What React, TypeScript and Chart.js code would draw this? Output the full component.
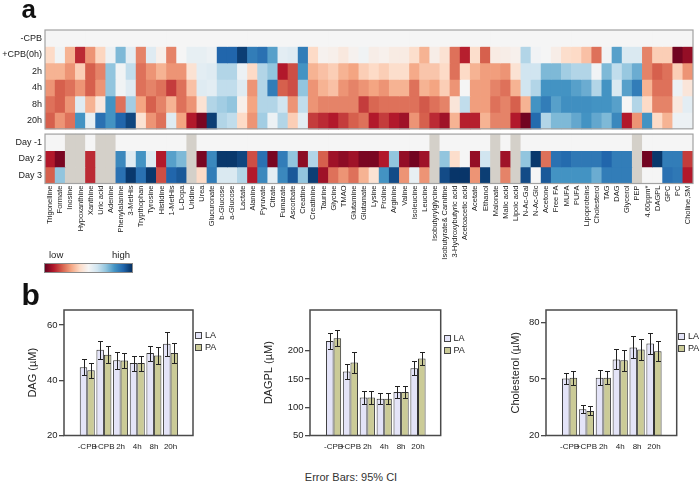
import React, { useEffect, useRef } from 'react';
import { Chart, registerables } from 'chart.js';

Chart.register(...registerables);

const FONT = "'Liberation Sans', Arial, Helvetica, sans-serif";
Chart.defaults.font.family = FONT;
Chart.defaults.color = '#222';

if (typeof document !== 'undefined' && document.body) document.body.style.margin = '0';

// ---------------- Heatmap data ----------------
const metabolites = [
  'Trigonelline', 'Formate', 'Inosine', 'Hypoxanthine', 'Xanthine', 'Uric acid', 'Adenine', 'Phenylalanine',
  '3-MetHis', 'Trypthophan', 'Tyrosine', 'Histidine', '1-MetHis', 'L-Dopa', 'Uridine', 'Urea',
  'Glucuronate', 'b-Glucose', 'a-Glucose', 'Lactate', 'Alanine', 'Pyruvate', 'Citrate', 'Fumarate',
  'Ascorbate', 'Creatine', 'Creatinine', 'Taurine', 'Glycine', 'TMAO', 'Glutamine', 'Glutamate',
  'Lysine', 'Proline', 'Arginine', 'Valine', 'Isoleucine', 'Leucine', 'Isobutyrylglycine', 'Isobutyrate& Carnitine',
  '3-Hydroxybutyric acid', 'Acetoacetic acid', 'Acetate', 'Ethanol', 'Malonate', 'Malic acid', 'Lipoic acid', 'N-Ac-Gal',
  'N-Ac-Glc', 'Acetone', 'Free FA', 'MUFA', 'PUFA', 'Lipoproteins', 'Cholesterol', 'TAG',
  'DAG', 'Glycerol', 'PEP', '4.60ppm*', 'DAGPL', 'GPC', 'PC', 'Choline,SM',
];

const topRowLabels = ['-CPB', '+CPB(0h)', '2h', '4h', '8h', '20h'];
const bottomRowLabels = ['Day -1', 'Day 2', 'Day 3'];

const rowMinusCPB = [
  0, 0, 0, 0, 0, 0, 0, 0, 0, 0, 0, 0, 0, 0, 0, 0,
  0, 0, 0, 0, 0, 0, 0, 0, 0, 0, 0, 0, 0, 0, 0, 0,
  0, 0, 0, 0, 0, 0, 0, 0, 0, 0, 0, 0, 0, 0, 0, 0,
  0, 0, 0, 0, 0, 0, 0, 0, 0, 0, 0, 0, 0, 0, 0, 0,
];
const rowCPB0h = [
  -0.2, 0.03, -0.35, -0.75, -0.45, -0.22, 0.05, 0.45, 0.1, -0.5, 0.12, -0.05, -0.5, 0.0, 0.08, 0.08,
  0.05, 0.8, 0.8, 0.95, 0.7, 0.75, 0.55, 0.1, 0.12, 0.7, -0.2, -0.03, -0.05, -0.1, -0.03, 0.03,
  -0.06, -0.04, -0.08, -0.08, -0.18, -0.35, -0.06, -0.15, -0.55, -0.78, -0.18, -0.6, -0.08, -0.06, -0.04, 0.3,
  0.02, 0.0, -0.06, -0.18, -0.2, -0.3, -0.55, 0.02, 0.55, 0.15, 0.15, -0.5, -0.25, -0.25, -0.97, -0.88,
];
const row2h = [
  -0.35, -0.35, -0.45, -0.25, -0.6, -0.5, 0.4, 0.03, 0.25, -0.55, -0.45, -0.35, -0.45, -0.45, -0.15, 0.1,
  0.12, 0.3, 0.3, 0.05, -0.2, 0.3, 0.4, -0.8, -0.65, 0.6, -0.35, -0.3, -0.25, -0.35, -0.4, -0.25,
  -0.2, -0.25, -0.18, -0.18, -0.38, -0.28, -0.28, -0.2, -0.55, -0.2, -0.35, -0.42, -0.42, -0.45, -0.15, 0.2,
  0.2, 0.45, 0.45, 0.35, 0.3, 0.3, 0.02, 0.45, 0.25, 0.38, 0.5, -0.5, -0.6, -0.55, -0.25, -0.45,
];
const row4h = [
  -0.45, -0.6, -0.55, -0.45, -0.6, -0.45, 0.4, 0.03, 0.12, -0.55, -0.5, -0.55, -0.7, -0.55, -0.3, 0.12,
  0.1, 0.25, 0.25, 0.12, -0.45, 0.3, 0.7, -0.6, -0.65, 0.4, -0.45, -0.35, -0.3, -0.45, -0.5, -0.45,
  -0.4, -0.45, -0.35, -0.35, -0.55, -0.35, -0.4, -0.25, -0.45, 0.0, -0.42, -0.42, -0.5, -0.55, -0.35, 0.2,
  0.3, 0.6, 0.6, 0.6, 0.55, 0.5, 0.3, 0.6, 0.15, 0.55, 0.7, -0.35, -0.55, -0.55, 0.05, -0.12,
];
const row8h = [
  -0.55, -0.6, -0.45, 0.12, -0.35, -0.1, 0.6, -0.55, 0.35, -0.4, -0.6, -0.5, -0.35, -0.55, -0.45, -0.15,
  0.3, 0.35, 0.4, -0.05, -0.4, 0.3, 0.3, 0.2, -0.45, 0.25, -0.45, -0.5, -0.5, -0.5, -0.5, -0.7,
  -0.58, -0.55, -0.55, -0.55, -0.55, -0.62, -0.55, -0.5, -0.12, 0.25, -0.42, -0.42, -0.55, -0.5, -0.6, -0.35,
  0.6, 0.7, 0.55, 0.62, 0.62, 0.62, 0.6, 0.6, 0.55, 0.0, 0.3, -0.2, -0.5, -0.5, -0.1, 0.1,
];
const row20h = [
  -0.6, -0.45, -0.55, 0.6, 0.08, 0.75, 0.6, 0.8, 0.92, -0.15, -0.45, -0.55, 0.12, -0.4, -0.8, -0.95,
  0.95, 0.3, 0.25, -0.2, -0.45, 0.35, 0.05, 0.3, -0.25, 0.1, -0.7, -0.75, -0.8, -0.7, -0.6, -0.55,
  -0.8, -0.7, -0.8, -0.85, -0.45, -0.6, -0.75, -0.85, -0.35, -0.78, -0.78, -0.35, -0.5, -0.5, -0.8, -0.97,
  0.78, 0.3, 0.45, 0.45, 0.52, 0.6, 0.52, 0.45, 0.65, -0.8, -0.45, 0.6, -0.2, -0.35, 0.05, 0.05,
];
const rowDayMinus1 = [
  0, 0, null, null, 0, null, null, 0, 0, 0, 0, 0, 0, 0, null, 0,
  0, 0, 0, 0, 0, 0, 0, 0, 0, 0, 0, 0, 0, 0, 0, 0,
  0, 0, 0, 0, 0, 0, null, 0, 0, 0, 0, 0, null, 0, null, 0,
  0, 0, 0, 0, 0, 0, 0, 0, 0, 0, null, 0, 0, 0, 0, 0,
];
const rowDay2 = [
  -0.8, -0.95, null, null, -0.75, null, null, 0.65, 0.12, 0.6, 0.12, -0.8, 0.55, 0.45, null, -0.95,
  0.65, 0.97, 0.97, 0.92, -0.65, 0.75, -0.95, 0.7, 0.4, -0.9, 0.3, -0.6, -0.85, -0.9, -0.85, -0.95,
  -0.95, -0.8, 0.4, -0.88, -0.97, -0.85, null, 0.4, -0.18, 0.0, -0.88, 0.2, null, -0.85, null, 0.4,
  0.97, -0.55, 0.75, 0.78, 0.72, 0.72, 0.72, 0.8, 0.7, 0.7, null, -0.97, 0.97, 0.7, 0.7, -0.7,
];
const rowDay3 = [
  -0.6, 0.4, null, null, -0.75, null, null, 0.75, 0.97, 0.75, 0.97, -0.65, 0.8, 0.85, null, -0.2,
  0.7, 0.15, 0.15, 0.3, -0.8, 0.65, 0.1, 0.65, 0.85, 0.4, 0.95, -0.85, -0.55, -0.45, -0.55, -0.35,
  -0.15, 0.6, 0.9, -0.45, 0.08, -0.45, null, 0.9, 0.98, 0.98, -0.45, 0.95, null, -0.5, null, 0.9,
  0.0, 0.85, 0.6, 0.6, 0.6, 0.6, 0.5, 0.7, 0.7, 0.7, null, 0.0, 0.0, 0.75, 0.72, -0.8,
];

// ---------------- Bar chart data ----------------
const timeLabels = ['-CPB', '+CPB', '2h', '4h', '8h', '20h'];
const dagLA = [44.7, 51.0, 47.2, 46.2, 49.8, 53.2];
const dagPA = [43.6, 49.2, 47.1, 46.2, 48.9, 49.8];
const dagLAci = [2.9, 3.2, 3.0, 2.7, 2.7, 4.3];
const dagPAci = [2.7, 3.0, 2.8, 2.7, 3.0, 3.7];
const dagplLA = [217, 163, 117, 115, 127, 169];
const dagplPA = [222, 179, 117, 115, 127, 186];
const dagplLAci = [14, 12.7, 11, 9.5, 11, 12];
const dagplPAci = [14, 19, 11.5, 9.5, 11, 12];
const cholLA = [50.4, 34.0, 50.7, 60.5, 66.9, 69.0];
const cholPA = [50.7, 33.1, 50.7, 60.0, 65.8, 64.9];
const cholLAci = [3.1, 2.0, 4.0, 5.3, 5.9, 5.7];
const cholPAci = [3.7, 2.4, 3.5, 5.5, 5.5, 5.2];
const dagTicks = [20, 40, 60];
const dagplTicks = [50, 100, 150, 200];
const cholTicks = [20, 50, 80];

// ---------------- Styles ----------------
const GAP = 0.32;
const NA_COLOR = '#d4d0c9';
const LA_COLOR = '#e4e4f8';
const PA_COLOR = '#cbcb97';
const RDBU: [number, string][] = [
  [-1, '#67001f'], [-0.8, '#b2182b'], [-0.6, '#d6604d'], [-0.4, '#f4a582'], [-0.2, '#fddbc7'],
  [0, '#f5f5f5'], [0.2, '#d1e5f0'], [0.4, '#92c5de'], [0.6, '#4393c3'], [0.8, '#2166ac'], [1, '#053061'],
];

function hexToRgb(h: string) {
  const n = parseInt(h.slice(1), 16);
  return [(n >> 16) & 255, (n >> 8) & 255, n & 255];
}
function heatColor(v: number) {
  const c = Math.max(-1, Math.min(1, v));
  for (let i = 0; i < RDBU.length - 1; i++) {
    const [a, ca] = RDBU[i];
    const [b, cb] = RDBU[i + 1];
    if (c >= a && c <= b) {
      const t = (c - a) / (b - a);
      const A = hexToRgb(ca), B = hexToRgb(cb);
      const m = A.map((x, k) => Math.round(x + (B[k] - x) * t));
      return `rgb(${m[0]},${m[1]},${m[2]})`;
    }
  }
  return RDBU[RDBU.length - 1][1];
}

function Heatmap() {
  const ref = useRef<HTMLCanvasElement>(null);
  useEffect(() => {
    const rows = [rowMinusCPB, rowCPB0h, row2h, row4h, row8h, row20h, rowDayMinus1, rowDay2, rowDay3];
    const rowLabels = [...topRowLabels, ...bottomRowLabels];
    const rowStarts = [0, 1, 2, 3, 4, 5, 6 + GAP, 7 + GAP, 8 + GAP];
    const datasets = rows.map((vals, r) => ({
      label: rowLabels[r],
      data: vals.map(() => [rowStarts[r], rowStarts[r] + 1]),
      backgroundColor: vals.map((v) => (v === null ? NA_COLOR : heatColor(v as number))),
      borderWidth: 0,
      barPercentage: 1,
      categoryPercentage: 1,
      grouped: false,
    }));
    const frame = {
      id: 'heatFrame',
      afterDatasetsDraw(chart: any) {
        const { ctx, chartArea: a, scales } = chart;
        const y = scales.y;
        ctx.save();
        ctx.strokeStyle = '#a2a2a2';
        ctx.lineWidth = 1.2;
        [[0, 6], [6 + GAP, 9 + GAP]].forEach(([s, e]) => {
          const y0 = y.getPixelForValue(s);
          const y1 = y.getPixelForValue(e);
          ctx.strokeRect(a.left, y0, a.right - a.left, y1 - y0);
        });
        ctx.restore();
      },
    };
    const chart = new Chart(ref.current!, {
      type: 'bar',
      data: { labels: metabolites, datasets: datasets as any },
      options: {
        animation: false,
        responsive: false,
        devicePixelRatio: 1,
        layout: { padding: { top: 30, right: 7, left: 0, bottom: 0 } },
        plugins: { legend: { display: false }, tooltip: { enabled: false } },
        scales: {
          x: {
            type: 'category',
            grid: { display: false, drawTicks: false },
            border: { display: false },
            ticks: { autoSkip: false, minRotation: 90, maxRotation: 90, padding: 2, font: { size: 7.5 }, color: '#222' },
            afterFit: (s: any) => { s.height = 81.5; },
          },
          y: {
            type: 'linear',
            reverse: true,
            min: 0,
            max: 9 + GAP,
            grid: { display: false, drawTicks: false },
            border: { display: false },
            afterBuildTicks: (s: any) => { s.ticks = rowStarts.map((v) => ({ value: v + 0.5 })); },
            ticks: { padding: 3, font: { size: 9 }, color: '#222', callback: (_v: any, i: number) => rowLabels[i] },
            afterFit: (s: any) => { s.width = 45; },
          },
        },
      } as any,
      plugins: [frame],
    });
    return () => chart.destroy();
  }, []);
  return <canvas ref={ref} width={700} height={265} style={{ position: 'absolute', left: 0, top: 0, width: 700, height: 265 }} />;
}

type PanelProps = {
  left: number; width: number; axisWidth: number; padRight: number; titleCenter: number; title: string;
  yMin: number; yMax: number; yTicks: number[]; la: number[]; pa: number[]; laErr: number[]; paErr: number[];
};

function BarPanel(p: PanelProps) {
  const ref = useRef<HTMLCanvasElement>(null);
  useEffect(() => {
    const errorBars = {
      id: 'errorBars',
      afterDatasetsDraw(chart: any) {
        const { ctx, scales } = chart;
        const y = scales.y;
        ctx.save();
        ctx.strokeStyle = '#222';
        ctx.lineWidth = 1;
        chart.data.datasets.forEach((ds: any, di: number) => {
          const meta = chart.getDatasetMeta(di);
          meta.data.forEach((bar: any, i: number) => {
            const v = ds.data[i].y;
            const e = ds.errors[i];
            const yh = Math.round(y.getPixelForValue(v + e)) + 0.5;
            const yl = Math.round(y.getPixelForValue(v - e)) + 0.5;
            const x = Math.round(bar.x) + 0.5;
            ctx.beginPath();
            ctx.moveTo(x, yh); ctx.lineTo(x, yl);
            ctx.moveTo(x - 2.5, yh); ctx.lineTo(x + 2.5, yh);
            ctx.moveTo(x - 2.5, yl); ctx.lineTo(x + 2.5, yl);
            ctx.stroke();
          });
        });
        ctx.restore();
      },
    };
    const box = {
      id: 'box',
      afterDraw(chart: any) {
        const { ctx, chartArea: a } = chart;
        ctx.save();
        ctx.strokeStyle = '#4a4a4a';
        ctx.lineWidth = 1.5;
        ctx.strokeRect(a.left, a.top, a.right - a.left, a.bottom - a.top);
        ctx.restore();
      },
    };
    const mk = (label: string, vals: number[], errs: number[], color: string) => ({
      label,
      data: vals.map((v, i) => ({ x: i, y: v })),
      errors: errs,
      backgroundColor: color,
      borderColor: '#333',
      borderWidth: 1,
      borderSkipped: false,
      categoryPercentage: 0.9,
      barPercentage: 1,
    });
    const chart = new Chart(ref.current!, {
      type: 'bar',
      data: {
        datasets: [mk('LA', p.la, p.laErr, LA_COLOR), mk('PA', p.pa, p.paErr, PA_COLOR)] as any,
      },
      options: {
        animation: false,
        responsive: false,
        devicePixelRatio: 1,
        layout: { padding: { top: 10, right: p.padRight, left: 0, bottom: 0 } },
        plugins: { legend: { display: false }, tooltip: { enabled: false } },
        scales: {
          x: {
            type: 'linear',
            min: -0.75,
            max: 5.7,
            grid: { display: false, drawTicks: false },
            border: { display: false },
            afterBuildTicks: (s: any) => { s.ticks = timeLabels.map((_, i) => ({ value: i })); },
            ticks: { autoSkip: false, maxRotation: 0, padding: 6, font: { size: 8 }, color: '#222', callback: (v: any) => timeLabels[v] },
            afterFit: (s: any) => { s.height = 24.5; },
          },
          y: {
            type: 'linear',
            min: p.yMin,
            max: p.yMax,
            border: { display: false },
            grid: { display: true, drawOnChartArea: false, drawTicks: true, tickLength: 5, color: '#4a4a4a', lineWidth: 1.3 },
            afterBuildTicks: (s: any) => { s.ticks = p.yTicks.map((v) => ({ value: v })); },
            ticks: { padding: 1.5, font: { size: 9.5 }, color: '#222' },
            title: {
              display: true, text: p.title, color: '#222', font: { size: 11 },
              padding: { top: p.titleCenter - 6.6, bottom: 0 },
            },
            afterFit: (s: any) => { s.width = p.axisWidth; },
          },
        },
      } as any,
      plugins: [errorBars, box],
    });
    return () => chart.destroy();
  }, []);
  return <canvas ref={ref} width={p.width} height={160} style={{ position: 'absolute', left: p.left, top: 300, width: p.width, height: 160 }} />;
}

function Legend({ x, y1, y2 }: { x: number; y1: number; y2: number }) {
  const item = (y: number, label: string, color: string) => (
    <div style={{ position: 'absolute', left: x, top: y, height: 7, display: 'flex', alignItems: 'center' }}>
      <div style={{ width: 7, height: 7, boxSizing: 'border-box', border: '1px solid #444', background: color }} />
      <span style={{ marginLeft: 3, fontSize: 9, lineHeight: '9px', color: '#222' }}>{label}</span>
    </div>
  );
  return (
    <>
      {item(y1, 'LA', LA_COLOR)}
      {item(y2, 'PA', PA_COLOR)}
    </>
  );
}

export default function App() {
  useEffect(() => { document.body.style.margin = '0'; }, []);
  const gradient = `linear-gradient(to right, ${RDBU.map(([v, c]) => `${c} ${((v + 1) / 2) * 100}%`).join(', ')})`;
  return (
    <div style={{ position: 'relative', width: 700, height: 486, background: '#fff', fontFamily: FONT, overflow: 'hidden' }}>
      <Heatmap />
      <div style={{ position: 'absolute', left: 21.5, top: -4.5, fontSize: 26, lineHeight: '26px', fontWeight: 'bold', color: '#111' }}>a</div>
      <div style={{ position: 'absolute', left: 21.5, top: 279.5, fontSize: 30, lineHeight: '30px', fontWeight: 'bold', color: '#111' }}>b</div>
      <div style={{ position: 'absolute', left: 49, top: 250.3, fontSize: 9.5, lineHeight: '9.5px', color: '#222' }}>low</div>
      <div style={{ position: 'absolute', left: 90, width: 40, textAlign: 'right', top: 250.3, fontSize: 9.5, lineHeight: '9.5px', color: '#222' }}>high</div>
      <div style={{ position: 'absolute', left: 44, top: 263, width: 89, height: 10, boxSizing: 'border-box', border: '1px solid #8a8a8a', background: gradient }} />
      <BarPanel left={0} width={230} axisWidth={64} padRight={37} titleCenter={33} title="DAG (µM)"
        yMin={20} yMax={65.4} yTicks={dagTicks} la={dagLA} pa={dagPA} laErr={dagLAci} paErr={dagPAci} />
      <BarPanel left={230} width={230} axisWidth={80} padRight={19.3} titleCenter={39} title="DAGPL (µM)"
        yMin={50} yMax={272} yTicks={dagplTicks} la={dagplLA} pa={dagplPA} laErr={dagplLAci} paErr={dagplPAci} />
      <BarPanel left={460} width={240} axisWidth={86} padRight={23.3} titleCenter={56} title="Cholesterol (µM)"
        yMin={20} yMax={86.8} yTicks={cholTicks} la={cholLA} pa={cholPA} laErr={cholLAci} paErr={cholPAci} />
      <Legend x={195} y1={332} y2={344} />
      <Legend x={443.5} y1={335} y2={346.5} />
      <Legend x={678} y1={333} y2={344.5} />
      <div style={{ position: 'absolute', left: 250, width: 202, textAlign: 'center', top: 471.7, fontSize: 11, lineHeight: '11px', color: '#333' }}>Error Bars: 95% CI</div>
    </div>
  );
}
